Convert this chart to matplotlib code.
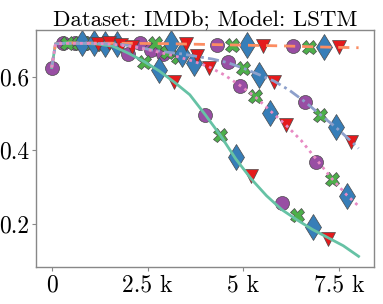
import matplotlib
matplotlib.use("Agg")
import matplotlib.pyplot as plt

# ---- data -------------------------------------------------------------
title = "Dataset: IMDb; Model: LSTM"
xticks = [0, 2500, 5000, 7500]
xtick_labels = ["0", "2.5 k", "5 k", "7.5 k"]
yticks = [0.2, 0.4, 0.6]
ytick_labels = ["0.2", "0.4", "0.6"]

# curves (step, value)
teal_x = [0, 100, 400, 800, 1200, 1600, 2000, 2400, 2800, 3200, 3600, 4000,
          4400, 4800, 5200, 5600, 6000, 6400, 6800, 7200, 7600, 8000]
teal_y = [0.625, 0.690, 0.692, 0.691, 0.689, 0.683, 0.664, 0.642, 0.616, 0.585,
          0.551, 0.497, 0.440, 0.376, 0.322, 0.276, 0.238, 0.210, 0.184, 0.162,
          0.140, 0.111]

orange_x = [0, 100, 500, 2000, 3000, 4000, 5000, 6000, 7000, 8000]
orange_y = [0.625, 0.690, 0.692, 0.691, 0.690, 0.688, 0.686, 0.684, 0.681, 0.679]

blue_x = [0, 100, 600, 1000, 1400, 1800, 2200, 2600, 3000, 3400, 3800, 4200,
          4600, 5000, 5400, 5800, 6200, 6600, 7000, 7400, 7800, 8000]
blue_y = [0.625, 0.690, 0.691, 0.691, 0.690, 0.688, 0.682, 0.673, 0.667, 0.662,
          0.655, 0.648, 0.638, 0.623, 0.606, 0.588, 0.563, 0.532, 0.497, 0.463,
          0.425, 0.405]

pink_x = [0, 100, 500, 900, 1300, 1700, 2100, 2500, 2900, 3300, 3700, 4100,
          4500, 4900, 5300, 5700, 6100, 6500, 6900, 7300, 7700, 8000]
pink_y = [0.625, 0.690, 0.691, 0.691, 0.690, 0.687, 0.682, 0.674, 0.664, 0.654,
          0.642, 0.627, 0.605, 0.577, 0.546, 0.507, 0.469, 0.427, 0.375, 0.323,
          0.277, 0.248]

# marker points
circle_x = [0, 2000, 4000, 6000, 300, 2300, 4300, 6300,
            600, 2600, 4600, 6600, 900, 2900, 4900, 6900]
circle_y = [0.624, 0.662, 0.496, 0.257, 0.692, 0.692, 0.687, 0.683,
            0.691, 0.673, 0.639, 0.531, 0.691, 0.662, 0.575, 0.369]

cross_x = [400, 2400, 4400, 6400, 700, 2700, 4700, 6700,
           1000, 3000, 5000, 7000, 1300, 3300, 5300, 7300]
cross_y = [0.692, 0.641, 0.441, 0.224, 0.692, 0.692, 0.686, 0.681,
           0.691, 0.668, 0.624, 0.495, 0.690, 0.654, 0.547, 0.321]

diamond_x = [800, 2800, 4800, 6800, 1100, 3100, 5100, 7100,
             1400, 3400, 5400, 7400, 1700, 3700, 5700, 7700]
diamond_y = [0.692, 0.618, 0.382, 0.190, 0.692, 0.691, 0.687, 0.681,
             0.690, 0.662, 0.605, 0.462, 0.689, 0.638, 0.500, 0.275]

tri_x = [1200, 3200, 5200, 7200, 1500, 3500, 5500, 7500,
         1800, 3800, 5800, 7800, 2100, 4100, 6100]
tri_y = [0.688, 0.587, 0.330, 0.158, 0.691, 0.688, 0.685, 0.680,
         0.687, 0.657, 0.586, 0.422, 0.681, 0.625, 0.469]

# ---- plot -------------------------------------------------------------
plt.rcParams["font.family"] = "cmr10"
plt.rcParams["axes.formatter.use_mathtext"] = True

fig = plt.figure(figsize=(3.83, 3.04), dpi=100)
ax = fig.add_axes([0.094, 0.1217, 0.8825, 0.7793])

edge = "#4a4a4a"
px = 72 / 100  # px -> pt
ax.plot(circle_x, circle_y, linestyle="none", marker="o", ms=14 * px,
        mfc="#984ea3", mec=edge, mew=0.5, zorder=2)
ax.plot(cross_x, cross_y, linestyle="none", marker="X", ms=14 * px,
        mfc="#4daf4a", mec=edge, mew=0.5, zorder=2)
ax.plot(diamond_x, diamond_y, linestyle="none", marker="d", ms=18 * px,
        mfc="#377eb8", mec=edge, mew=0.5, zorder=2)
ax.plot(tri_x, tri_y, linestyle="none", marker="v", ms=14 * px,
        mfc="#e41a1c", mec=edge, mew=0.5, zorder=2)

lw = 2.0
ax.plot(teal_x, teal_y, color="#66c2a5", lw=lw, ls="-", zorder=3)
ax.plot(orange_x, orange_y, color="#fc8d62", lw=lw, ls=(0, (4, 2.5)), zorder=3)
ax.plot(blue_x, blue_y, color="#8da0cb", lw=lw, ls=(0, (4, 1.5, 1, 1.5)), zorder=3)
ax.plot(pink_x, pink_y, color="#e78ac3", lw=lw, ls=(0, (1, 1.5)), zorder=3)

ax.set_xlim(-409, 8402)
ax.set_ylim(0.082, 0.727)
ax.set_xticks(xticks)
ax.set_xticklabels(xtick_labels)
ax.set_yticks(yticks)
ax.set_yticklabels(ytick_labels)
ax.tick_params(labelsize=17, length=3, width=0.8, color="#888888", pad=2)
for s in ax.spines.values():
    s.set_color("#888888")
    s.set_linewidth(1.0)
ax.set_title(title, fontsize=16.5, pad=3)

fig.savefig("out.png", dpi=100)
